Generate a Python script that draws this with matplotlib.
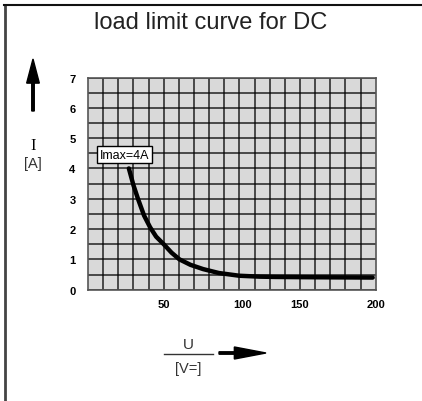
import numpy as np
import matplotlib
matplotlib.use("Agg")
import matplotlib.pyplot as plt
from matplotlib.lines import Line2D
from matplotlib.patches import FancyArrow
from matplotlib.ticker import MultipleLocator, FixedLocator

plt.rcParams['font.family'] = ['Liberation Sans', 'DejaVu Sans']

# load limit curve
volts = [27, 30, 33, 37, 41, 45, 50, 55, 60, 67, 75, 85, 98, 115, 129, 160, 198]
amps = [4.0, 3.45, 3.0, 2.45, 2.06, 1.75, 1.5, 1.22, 1.0, 0.82, 0.68, 0.55, 0.46, 0.43, 0.42, 0.41, 0.40]

x_ticks = [50, 100, 150, 200]
y_ticks = [0, 1, 2, 3, 4, 5, 6, 7]

# the printed voltage axis is not linear: grid columns for each labelled voltage
v_ref = [0, 50, 100, 150, 200]
col_ref = [0, 5, 10.2, 14, 19]


def fwd(v):
    return np.interp(v, v_ref, col_ref)


def inv(c):
    return np.interp(c, col_ref, v_ref)


fig = plt.figure(figsize=(4.22, 4.02), dpi=100)
ax = fig.add_axes([0.2085, 0.2769, 0.6818, 0.5278])
ax.set_xscale('function', functions=(fwd, inv))
ax.set_xlim(0, 200)
ax.set_ylim(0, 7)
ax.set_facecolor('#d9d9d9')

# grid: one line per column, two per amp
ax.xaxis.remove_overlapping_locs = False
ax.yaxis.remove_overlapping_locs = False
ax.xaxis.set_minor_locator(FixedLocator(inv(np.arange(1, 19))))
ax.yaxis.set_minor_locator(MultipleLocator(0.5))
ax.grid(which='minor', color='black', lw=1.1, alpha=0.85)
ax.set_axisbelow(True)

ax.plot(volts, amps, color='black', lw=3.2, solid_capstyle='round', zorder=3)

ax.set_xticks(x_ticks)
ax.set_xticklabels([str(v) for v in x_ticks], fontsize=8, fontweight='bold')
ax.set_yticks(y_ticks)
ax.set_yticklabels([str(v) for v in y_ticks], fontsize=8, fontweight='bold')
ax.tick_params(which='both', length=0)
ax.tick_params(axis='x', pad=7)
ax.tick_params(axis='y', pad=9)
for s in ax.spines.values():
    s.set_color('#555555')
    s.set_linewidth(1.2)

ax.text(24, 4.45, 'Imax=4A', fontsize=9, ha='center', va='center', zorder=4,
        bbox=dict(boxstyle='square,pad=0.2', fc='white', ec='black', lw=1))

fig.text(0.5, 0.944, 'load limit curve for DC', fontsize=17, ha='center', va='center',
         color='#222222')

# y axis label with arrow
fig.text(33 / 422, 1 - 146 / 402, 'I', fontsize=12, family='Liberation Serif', ha='center', va='center')
fig.text(33 / 422, 1 - 164 / 402, '[A]', fontsize=10.5, ha='center', va='center', color='#333333')
fig.patches.append(FancyArrow(
    33 / 422, 1 - 112 / 402, 0, 52 / 402, width=0.006, head_width=0.03, head_length=0.06,
    length_includes_head=True, color='black', transform=fig.transFigure))

# x axis label as fraction with arrow
fig.text(188 / 422, 1 - 345 / 402, 'U', fontsize=11, ha='center', va='center', color='#333333')
fig.text(188 / 422, 1 - 369 / 402, '[V=]', fontsize=10.5, ha='center', va='center', color='#333333')
fig.add_artist(Line2D([164 / 422, 213 / 422], [1 - 355 / 402] * 2, color='#333333', lw=1))
fig.patches.append(FancyArrow(
    219 / 422, 1 - 354 / 402, 47 / 422, 0, width=0.006, head_width=0.03, head_length=0.075,
    length_includes_head=True, color='black', transform=fig.transFigure))

# outer frame (left and top)
fig.add_artist(Line2D([5 / 422, 5 / 422], [0, 1 - 6 / 402], color='#444444', lw=2))
fig.add_artist(Line2D([4 / 422, 1], [1 - 6 / 402] * 2, color='#111111', lw=1.5))

fig.savefig('out.png', dpi=100)
